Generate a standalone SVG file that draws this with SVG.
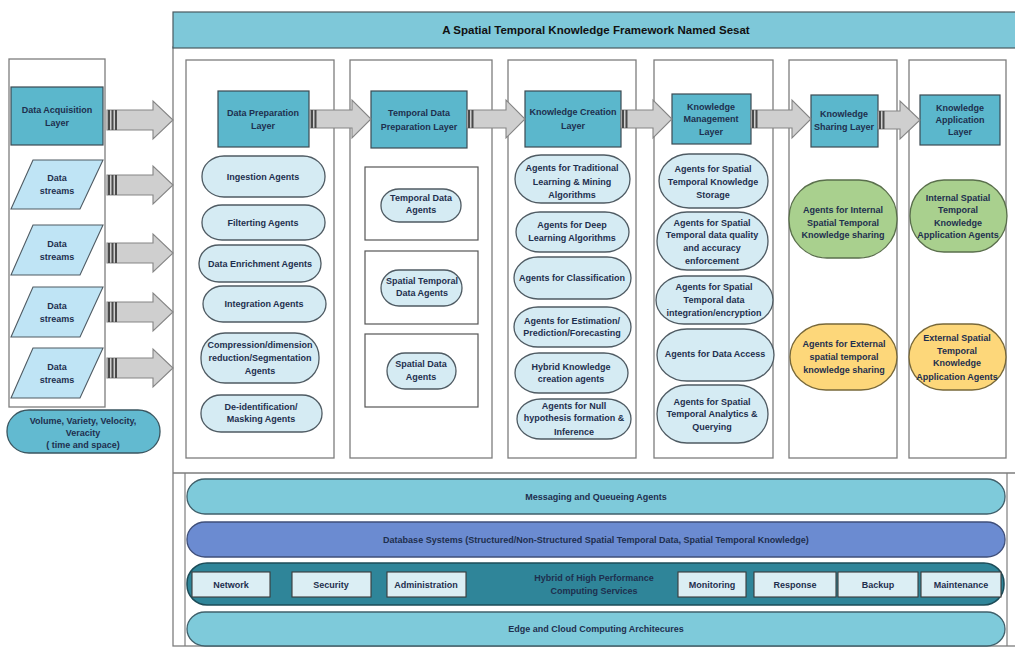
<svg xmlns="http://www.w3.org/2000/svg" width="1015" height="650" viewBox="0 0 1015 650">
  <style>
    text { font-family: "Liberation Sans", Arial, sans-serif; font-weight: bold; font-size: 9px; fill: #1e2f4e; text-anchor: middle; }
    .title { font-size: 11.5px; fill: #111; }
    .col { fill: #fff; stroke: #7d7d7d; stroke-width: 1.3; }
    .inner { fill: #fff; stroke: #555; stroke-width: 1.2; }
    .layer { fill: #5bb7cc; stroke: #3b4a52; stroke-width: 1.2; }
    .agent { fill: #d5ebf3; stroke: #4f5b63; stroke-width: 1.3; }
    .stream { fill: #bfe4f5; stroke: #4f5b63; stroke-width: 1.1; }
    .green { fill: #a9d08e; stroke: #5a6f4c; stroke-width: 1.3; }
    .yellow { fill: #fdd77a; stroke: #77683a; stroke-width: 1.3; }
    .vol { fill: #62bad0; stroke: #3a5660; stroke-width: 1.3; }
    .bar { fill: #7ecada; stroke: #40606b; stroke-width: 1.3; }
    .db { fill: #6b8bd1; stroke: #3f4f7a; stroke-width: 1.3; }
    .hpc { fill: #2f8599; stroke: #1d4c58; stroke-width: 1.5; }
    .svc { fill: #dbeef4; stroke: #3a3a3a; stroke-width: 1.1; }
    .arrow { fill: #cfcfcf; stroke: #858585; stroke-width: 1.1; }
    .stripe { stroke: #4a4a4a; stroke-width: 2; }
    .frame { fill: none; stroke: #7d7d7d; stroke-width: 1.3; }
  </style>

  <!-- outer framework frame and title bar -->
  <g id="frame">
    <rect class="frame" x="173" y="47" width="860" height="599"/>
    <rect x="173" y="12" width="860" height="36" fill="#7ec8d9" stroke="#4a5a60" stroke-width="1.2"/>
    <text class="title" x="596" y="34">A Spatial Temporal Knowledge Framework Named Sesat</text>
    <line x1="173" y1="473" x2="1015" y2="473" stroke="#7d7d7d" stroke-width="1.3"/>
    <line x1="185" y1="473" x2="185" y2="646" stroke="#7d7d7d" stroke-width="1.2"/>
    <line x1="1007" y1="473" x2="1007" y2="646" stroke="#7d7d7d" stroke-width="1.2"/>
  </g>

  <!-- data acquisition panel -->
  <g id="acquisition">
    <rect class="col" x="9" y="59" width="96" height="348"/>
    <rect class="layer" x="11" y="87" width="92" height="58"/>
    <text x="57" y="113">Data Acquisition</text>
    <text x="57" y="126">Layer</text>
  </g>
  <g id="stream1">
    <polygon class="stream" points="33,160 103,160 80,209 11,209"/>
    <text x="57" y="181">Data</text><text x="57" y="194">streams</text>
  </g>
  <g id="stream2">
    <polygon class="stream" points="33,225 103,225 80,275 11,275"/>
    <text x="57" y="247">Data</text><text x="57" y="260">streams</text>
  </g>
  <g id="stream3">
    <polygon class="stream" points="33,287 103,287 80,337 11,337"/>
    <text x="57" y="309">Data</text><text x="57" y="322">streams</text>
  </g>
  <g id="stream4">
    <polygon class="stream" points="33,348 103,348 80,398 11,398"/>
    <text x="57" y="370">Data</text><text x="57" y="383">streams</text>
  </g>
  <g id="volume">
    <rect class="vol" x="7" y="410" width="153" height="43" rx="22" ry="21"/>
    <text x="83" y="424">Volume, Variety, Velocity,</text>
    <text x="83" y="436">Veracity</text>
    <text x="83" y="448">( time and space)</text>
  </g>

  <!-- column 1: data preparation -->
  <g id="data-preparation">
    <rect class="col" x="186" y="60" width="148" height="398"/>
    <rect class="layer" x="218" y="91" width="91" height="56"/>
    <text x="263" y="116">Data Preparation</text>
    <text x="263" y="129">Layer</text>
  </g>
  <g id="ingestion"><rect class="agent" x="202" y="156" width="123" height="41" rx="22" ry="20"/><text x="263" y="180">Ingestion Agents</text></g>
  <g id="filtering"><rect class="agent" x="202" y="205" width="123" height="35" rx="20" ry="17"/><text x="263" y="226">Filterting Agents</text></g>
  <g id="enrichment"><rect class="agent" x="199" y="245" width="122" height="37" rx="20" ry="18"/><text x="260" y="267">Data Enrichment Agents</text></g>
  <g id="integration"><rect class="agent" x="203" y="286" width="123" height="36" rx="20" ry="18"/><text x="264" y="307">Integration Agents</text></g>
  <g id="compression"><rect class="agent" x="201" y="333" width="118" height="50" rx="24" ry="24"/>
    <text x="260" y="348">Compression/dimension</text><text x="260" y="361">reduction/Segmentation</text><text x="260" y="374">Agents</text></g>
  <g id="deidentification"><rect class="agent" x="201" y="395" width="121" height="37" rx="20" ry="18"/>
    <text x="261" y="410">De-identification/</text><text x="261" y="422">Masking Agents</text></g>

  <!-- column 2: temporal data preparation -->
  <g id="temporal-preparation">
    <rect class="col" x="350" y="60" width="142" height="398"/>
    <rect class="layer" x="371" y="91" width="96" height="57"/>
    <text x="419" y="116">Temporal Data</text>
    <text x="419" y="130">Preparation Layer</text>
  </g>
  <g id="temporal-agents"><rect class="inner" x="365" y="167" width="113" height="73"/>
    <rect class="agent" x="381" y="189" width="80" height="33" rx="18" ry="16"/>
    <text x="421" y="201">Temporal Data</text><text x="421" y="213">Agents</text></g>
  <g id="spatial-temporal-agents"><rect class="inner" x="365" y="251" width="113" height="73"/>
    <rect class="agent" x="381" y="270" width="81" height="36" rx="18" ry="18"/>
    <text x="422" y="284">Spatial Temporal</text><text x="422" y="296">Data Agents</text></g>
  <g id="spatial-agents"><rect class="inner" x="365" y="334" width="113" height="73"/>
    <rect class="agent" x="387" y="353" width="69" height="36" rx="18" ry="18"/>
    <text x="421" y="367">Spatial Data</text><text x="421" y="380">Agents</text></g>

  <!-- column 3: knowledge creation -->
  <g id="knowledge-creation">
    <rect class="col" x="508" y="60" width="128" height="398"/>
    <rect class="layer" x="525" y="91" width="96" height="56"/>
    <text x="573" y="115">Knowledge Creation</text>
    <text x="573" y="129">Layer</text>
  </g>
  <g id="traditional"><rect class="agent" x="515" y="155" width="115" height="48" rx="26" ry="24"/>
    <text x="572" y="171">Agents  for Traditional</text><text x="572" y="185">Learning &amp; Mining</text><text x="572" y="198">Algorithms</text></g>
  <g id="deep"><rect class="agent" x="516" y="212" width="113" height="40" rx="24" ry="20"/>
    <text x="572" y="228">Agents for Deep</text><text x="572" y="241">Learning Algorithms</text></g>
  <g id="classification"><rect class="agent" x="514" y="257" width="117" height="42" rx="24" ry="21"/>
    <text x="572" y="281">Agents for Classification</text></g>
  <g id="estimation"><rect class="agent" x="514" y="307" width="117" height="40" rx="24" ry="20"/>
    <text x="572" y="324">Agents for Estimation/</text><text x="572" y="336">Prediction/Forecasting</text></g>
  <g id="hybrid-knowledge"><rect class="agent" x="515" y="353" width="113" height="40" rx="24" ry="20"/>
    <text x="571" y="370">Hybrid Knowledge</text><text x="571" y="382">creation agents</text></g>
  <g id="null-hypothesis"><rect class="agent" x="517" y="399" width="114" height="40" rx="24" ry="20"/>
    <text x="574" y="409">Agents for Null</text><text x="574" y="421">hypothesis formation &amp;</text><text x="574" y="435">Inference</text></g>

  <!-- column 4: knowledge management -->
  <g id="knowledge-management">
    <rect class="col" x="654" y="60" width="119" height="398"/>
    <rect class="layer" x="672" y="94" width="79" height="50"/>
    <text x="711" y="110">Knowledge</text>
    <text x="711" y="122">Management</text>
    <text x="711" y="135">Layer</text>
  </g>
  <g id="storage"><rect class="agent" x="659" y="154" width="109" height="54" rx="30" ry="27"/>
    <text x="713" y="172">Agents  for Spatial</text><text x="713" y="185">Temporal Knowledge</text><text x="713" y="198">Storage</text></g>
  <g id="quality"><rect class="agent" x="657" y="212" width="111" height="58" rx="30" ry="29"/>
    <text x="712" y="226">Agents  for Spatial</text><text x="712" y="238">Temporal data quality</text><text x="712" y="251">and accuracy</text><text x="712" y="264">enforcement</text></g>
  <g id="encryption"><rect class="agent" x="656" y="276" width="117" height="48" rx="28" ry="24"/>
    <text x="714" y="290">Agents for Spatial</text><text x="714" y="303">Temporal data</text><text x="714" y="316">integration/encryption</text></g>
  <g id="data-access"><rect class="agent" x="657" y="329" width="117" height="52" rx="30" ry="26"/>
    <text x="715" y="357">Agents for Data Access</text></g>
  <g id="analytics"><rect class="agent" x="657" y="385" width="111" height="58" rx="30" ry="29"/>
    <text x="712" y="405">Agents for Spatial</text><text x="712" y="417">Temporal Analytics &amp;</text><text x="712" y="430">Querying</text></g>

  <!-- column 5: knowledge sharing -->
  <g id="knowledge-sharing">
    <rect class="col" x="789" y="60" width="108" height="398"/>
    <rect class="layer" x="811" y="95" width="67" height="52"/>
    <text x="844" y="117">Knowledge</text>
    <text x="844" y="130">Sharing Layer</text>
  </g>
  <g id="internal-sharing"><rect class="green" x="789" y="180" width="108" height="78" rx="38" ry="38"/>
    <text x="843" y="213">Agents for Internal</text><text x="843" y="226">Spatial Temporal</text><text x="843" y="238">Knowledge sharing</text></g>
  <g id="external-sharing"><rect class="yellow" x="790" y="324" width="107" height="66" rx="36" ry="33"/>
    <text x="844" y="347">Agents for External</text><text x="844" y="360">spatial temporal</text><text x="844" y="373">knowledge sharing</text></g>

  <!-- column 6: knowledge application -->
  <g id="knowledge-application">
    <rect class="col" x="909" y="60" width="97" height="398"/>
    <rect class="layer" x="920" y="95" width="80" height="50"/>
    <text x="960" y="111">Knowledge</text>
    <text x="960" y="123">Application</text>
    <text x="960" y="135">Layer</text>
  </g>
  <g id="internal-application"><rect class="green" x="910" y="180" width="97" height="72" rx="34" ry="36"/>
    <text x="958" y="201">Internal Spatial</text><text x="958" y="213">Temporal</text><text x="958" y="226">Knowledge</text><text x="958" y="238">Application Agents</text></g>
  <g id="external-application"><rect class="yellow" x="909" y="324" width="97" height="66" rx="34" ry="33"/>
    <text x="957" y="341">External Spatial</text><text x="957" y="354">Temporal</text><text x="957" y="366">Knowledge</text><text x="957" y="380">Application Agents</text></g>

  <!-- shared infrastructure bars -->
  <g id="messaging"><rect class="bar" x="187" y="479" width="818" height="35" rx="18" ry="17"/>
    <text x="596" y="500">Messaging and Queueing Agents</text></g>
  <g id="database"><rect class="db" x="187" y="522" width="818" height="35" rx="18" ry="17"/>
    <text x="596" y="543">Database Systems (Structured/Non-Structured Spatial Temporal Data, Spatial Temporal Knowledge)</text></g>
  <g id="hpc"><rect class="hpc" x="187" y="563" width="817" height="42" rx="20" ry="20"/>
    <text x="594" y="581">Hybrid of High Performance</text><text x="594" y="594">Computing Services</text>
    <rect class="svc" x="192" y="572" width="78" height="25"/><text x="231" y="588">Network</text>
    <rect class="svc" x="292" y="572" width="79" height="25"/><text x="331" y="588">Security</text>
    <rect class="svc" x="387" y="572" width="79" height="25"/><text x="426" y="588">Administration</text>
    <rect class="svc" x="678" y="572" width="68" height="25"/><text x="712" y="588">Monitoring</text>
    <rect class="svc" x="754" y="572" width="82" height="25"/><text x="795" y="588">Response</text>
    <rect class="svc" x="838" y="572" width="80" height="25"/><text x="878" y="588">Backup</text>
    <rect class="svc" x="921" y="572" width="80" height="25"/><text x="961" y="588">Maintenance</text></g>
  <g id="edge-cloud"><rect class="bar" x="187" y="612" width="818" height="34" rx="18" ry="17"/>
    <text x="596" y="632">Edge and Cloud Computing Architecures</text></g>

  <!-- block arrows between stages -->
  <g id="connectors">
    <path class="arrow" d="M107,110 H153 V101 L173,120 L153,139 V130 H107 Z"/>
    <path class="arrow" d="M107,175 H153 V166 L173,185 L153,204 V195 H107 Z"/>
    <path class="arrow" d="M107,243 H153 V234 L173,253 L153,272 V263 H107 Z"/>
    <path class="arrow" d="M107,302 H153 V293 L173,312 L153,331 V322 H107 Z"/>
    <path class="arrow" d="M107,358 H153 V349 L173,368 L153,387 V378 H107 Z"/>
    <path class="arrow" d="M310,110 H352 V100 L371,119 L352,138 V128 H310 Z"/>
    <path class="arrow" d="M467,110 H506 V100 L525,119 L506,138 V128 H467 Z"/>
    <path class="arrow" d="M621,110 H653 V100 L672,119 L653,138 V128 H621 Z"/>
    <path class="arrow" d="M751,110 H792 V100 L811,119 L792,138 V128 H751 Z"/>
    <path class="arrow" d="M878,111 H900 V101 L920,120 L900,139 V129 H878 Z"/>
    <g class="stripe">
      <path d="M109,110 V130 M112.5,110 V130 M116,110 V130"/>
      <path d="M109,175 V195 M112.5,175 V195 M116,175 V195"/>
      <path d="M109,243 V263 M112.5,243 V263 M116,243 V263"/>
      <path d="M109,302 V322 M112.5,302 V322 M116,302 V322"/>
      <path d="M109,358 V378 M112.5,358 V378 M116,358 V378"/>
      <path d="M312,110 V128 M315.5,110 V128"/>
      <path d="M469,110 V128 M472.5,110 V128"/>
      <path d="M623,110 V128 M626.5,110 V128"/>
      <path d="M753,110 V128 M756.5,110 V128"/>
      <path d="M880,111 V129 M883.5,111 V129"/>
    </g>
  </g>
</svg>
